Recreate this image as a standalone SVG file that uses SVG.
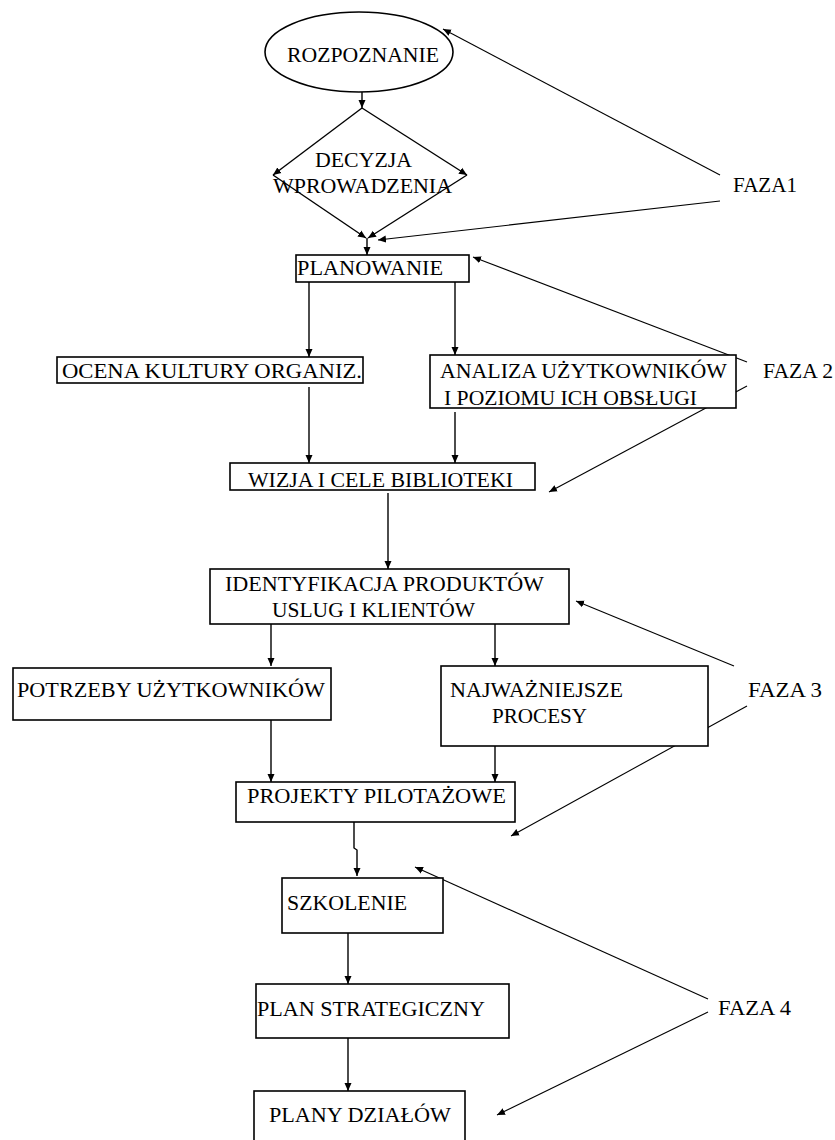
<svg xmlns="http://www.w3.org/2000/svg" width="835" height="1140" viewBox="0 0 835 1140">
<style>
.box{fill:#fff;stroke:#000;stroke-width:1.6}
.t{font-family:"Liberation Serif","Times New Roman",serif;font-size:21px;fill:#000}
.c{fill:none;stroke:#000;stroke-width:1.4}
.f{fill:none;stroke:#000;stroke-width:1.1}
</style>
<defs>
<marker id="ah" viewBox="0 0 8 8" refX="8" refY="4" markerWidth="8" markerHeight="8" markerUnits="userSpaceOnUse" orient="auto">
<path d="M0,0.5 L8,4 L0,7.5 Z" fill="#000"/>
</marker>
</defs>
<rect width="835" height="1140" fill="#fff"/>
<g id="connectors">
<line class="c" x1="362" y1="92" x2="362" y2="108" marker-end="url(#ah)"/>
<line class="c" x1="362" y1="108" x2="273" y2="175" marker-end="url(#ah)"/>
<line class="c" x1="362" y1="108" x2="467" y2="175" marker-end="url(#ah)"/>
<line class="c" x1="273" y1="175" x2="366" y2="238" marker-end="url(#ah)"/>
<line class="c" x1="467" y1="175" x2="368" y2="238" marker-end="url(#ah)"/>
<line class="c" x1="367" y1="238" x2="367" y2="255" marker-end="url(#ah)"/>
<line class="c" x1="309" y1="282" x2="309" y2="357" marker-end="url(#ah)"/>
<line class="c" x1="455" y1="282" x2="455" y2="355" marker-end="url(#ah)"/>
<line class="c" x1="309" y1="387" x2="309" y2="463" marker-end="url(#ah)"/>
<line class="c" x1="455" y1="412" x2="455" y2="463" marker-end="url(#ah)"/>
<line class="c" x1="388" y1="493" x2="388" y2="569" marker-end="url(#ah)"/>
<line class="c" x1="271" y1="624" x2="271" y2="666" marker-end="url(#ah)"/>
<line class="c" x1="495" y1="624" x2="495" y2="666" marker-end="url(#ah)"/>
<line class="c" x1="271" y1="720" x2="271" y2="782" marker-end="url(#ah)"/>
<line class="c" x1="495" y1="746" x2="495" y2="782" marker-end="url(#ah)"/>
<path class="c" d="M354,822 L354,848 L357,850 L357,876" marker-end="url(#ah)"/>
<line class="c" x1="348" y1="933" x2="348" y2="984" marker-end="url(#ah)"/>
<line class="c" x1="348" y1="1038" x2="348" y2="1091" marker-end="url(#ah)"/>
<line class="f" x1="720" y1="175" x2="443" y2="29" marker-end="url(#ah)"/>
<line class="f" x1="720" y1="201" x2="378" y2="240" marker-end="url(#ah)"/>
<line class="f" x1="747" y1="362" x2="473" y2="257" marker-end="url(#ah)"/>
<line class="f" x1="747" y1="386" x2="549" y2="492" marker-end="url(#ah)"/>
<line class="f" x1="734" y1="666" x2="576" y2="601" marker-end="url(#ah)"/>
<line class="f" x1="747" y1="706" x2="511" y2="836" marker-end="url(#ah)"/>
<line class="f" x1="708" y1="999" x2="415" y2="867" marker-end="url(#ah)"/>
<line class="f" x1="708" y1="1012" x2="497" y2="1115" marker-end="url(#ah)"/>
</g>
<g id="rozpoznanie">
<ellipse class="box" style="fill:none" cx="359" cy="52" rx="94" ry="40"/>
<text class="t" x="287" y="62" textLength="152" lengthAdjust="spacingAndGlyphs">ROZPOZNANIE</text>
</g>
<g id="decyzja">
<text class="t" x="315" y="167" textLength="97" lengthAdjust="spacingAndGlyphs">DECYZJA</text>
<text class="t" x="273" y="193" textLength="179" lengthAdjust="spacingAndGlyphs">WPROWADZENIA</text>
</g>
<g id="planowanie">
<rect class="box" x="296" y="255" width="173" height="27"/>
<text class="t" x="297" y="275" textLength="146" lengthAdjust="spacingAndGlyphs">PLANOWANIE</text>
</g>
<g id="faza1">
<text class="t" x="733" y="192" textLength="64" lengthAdjust="spacingAndGlyphs">FAZA1</text>
</g>
<g id="ocena">
<rect class="box" x="57" y="357" width="306" height="26"/>
<text class="t" x="62" y="378" textLength="300" lengthAdjust="spacingAndGlyphs">OCENA KULTURY ORGANIZ.</text>
</g>
<g id="analiza">
<rect class="box" x="430" y="355" width="306" height="53"/>
<text class="t" x="440" y="378" textLength="287" lengthAdjust="spacingAndGlyphs">ANALIZA UŻYTKOWNIKÓW</text>
<text class="t" x="444" y="405" textLength="253" lengthAdjust="spacingAndGlyphs">I POZIOMU ICH OBSŁUGI</text>
</g>
<g id="faza2">
<text class="t" x="763" y="378" textLength="70" lengthAdjust="spacingAndGlyphs">FAZA 2</text>
</g>
<g id="wizja">
<rect class="box" x="230" y="463" width="305" height="27"/>
<text class="t" x="248" y="487" textLength="265" lengthAdjust="spacingAndGlyphs">WIZJA I CELE BIBLIOTEKI</text>
</g>
<g id="identyfikacja">
<rect class="box" x="210" y="569" width="359" height="55"/>
<text class="t" x="225" y="591" textLength="319" lengthAdjust="spacingAndGlyphs">IDENTYFIKACJA PRODUKTÓW</text>
<text class="t" x="272" y="617" textLength="203" lengthAdjust="spacingAndGlyphs">USLUG I KLIENTÓW</text>
</g>
<g id="potrzeby">
<rect class="box" x="13" y="668" width="318" height="52"/>
<text class="t" x="17" y="697" textLength="308" lengthAdjust="spacingAndGlyphs">POTRZEBY UŻYTKOWNIKÓW</text>
</g>
<g id="najwazniejsze">
<rect class="box" x="441" y="666" width="267" height="80"/>
<text class="t" x="450" y="697" textLength="173" lengthAdjust="spacingAndGlyphs">NAJWAŻNIEJSZE</text>
<text class="t" x="492" y="723" textLength="95" lengthAdjust="spacingAndGlyphs">PROCESY</text>
</g>
<g id="faza3">
<text class="t" x="748" y="697" textLength="74" lengthAdjust="spacingAndGlyphs">FAZA 3</text>
</g>
<g id="projekty">
<rect class="box" x="236" y="782" width="279" height="40"/>
<text class="t" x="247" y="803" textLength="259" lengthAdjust="spacingAndGlyphs">PROJEKTY PILOTAŻOWE</text>
</g>
<g id="szkolenie">
<rect class="box" x="282" y="878" width="161" height="55"/>
<text class="t" x="287" y="910" textLength="120" lengthAdjust="spacingAndGlyphs">SZKOLENIE</text>
</g>
<g id="plan-strategiczny">
<rect class="box" x="256" y="984" width="253" height="54"/>
<text class="t" x="257" y="1016" textLength="228" lengthAdjust="spacingAndGlyphs">PLAN STRATEGICZNY</text>
</g>
<g id="plany-dzialow">
<rect class="box" x="254" y="1091" width="211" height="60"/>
<text class="t" x="269" y="1122" textLength="182" lengthAdjust="spacingAndGlyphs">PLANY DZIAŁÓW</text>
</g>
<g id="faza4">
<text class="t" x="718" y="1015" textLength="73" lengthAdjust="spacingAndGlyphs">FAZA 4</text>
</g>
</svg>
